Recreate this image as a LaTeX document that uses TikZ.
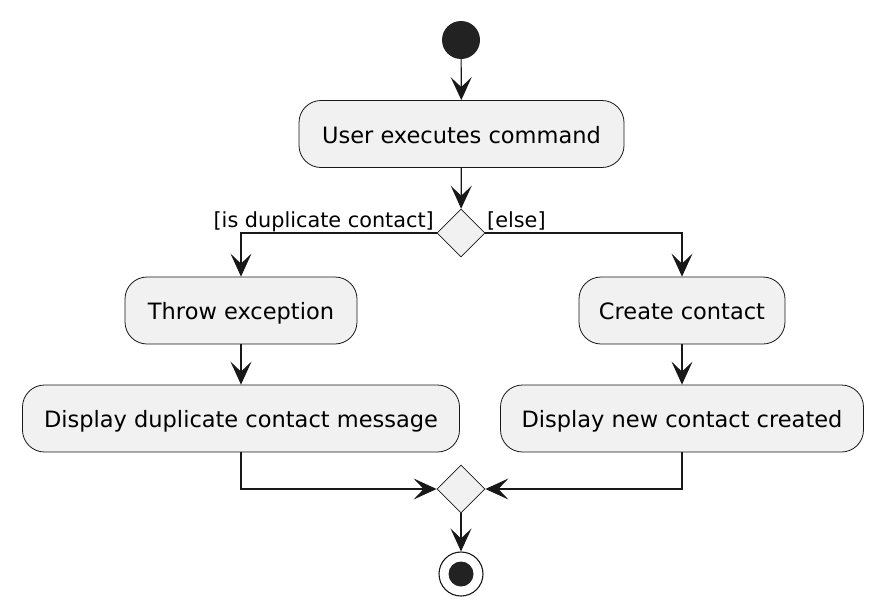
\documentclass[tikz,border=0pt]{standalone}
\usepackage{fontspec}
\setmainfont{DejaVu Sans}
\usetikzlibrary{shapes.geometric,arrows.meta}
\definecolor{boxfill}{HTML}{F1F1F1}
\definecolor{ink}{HTML}{181818}
\definecolor{dot}{HTML}{222222}
\begin{document}
\begin{tikzpicture}[x=1pt,y=-1pt,
  actbox/.style={draw=ink,line width=0.8pt,fill=boxfill,rounded corners=22pt,minimum height=67pt,inner sep=0pt,text height=20pt,text depth=2pt,font=\fontsize{22.5}{26}\selectfont,text=black},
  decision/.style={shape=diamond,draw=ink,line width=0.8pt,fill=boxfill,minimum width=48pt,minimum height=48pt,inner sep=0pt,aspect=1},
  flow/.style={draw=ink,line width=1.2pt,-{Stealth[length=23pt,width=21pt,inset=10pt]}},
  guard/.style={font=\fontsize{20.8}{24}\selectfont,text=black,inner sep=0pt}]
\useasboundingbox (0,0) rectangle (884,616);
\fill[white] (0,0) rectangle (884,616);
\node[circle,fill=dot,minimum size=38pt,inner sep=0pt] (start) at (461,40) {};
\node[actbox,minimum width=325pt] (a1) at (461.5,134) {User executes command};
\node[decision] (d1) at (461,233) {};
\node[actbox,minimum width=232pt] (a2) at (241,310.5) {Throw exception};
\node[actbox,minimum width=437pt] (a3) at (241,418.5) {Display duplicate contact message};
\node[actbox,minimum width=206pt] (a4) at (682,310.5) {Create contact};
\node[actbox,minimum width=363pt] (a5) at (682,418.5) {Display new contact created};
\node[decision] (d2) at (461,489) {};
\node[circle,draw=ink,line width=1.1pt,fill=white,minimum size=44pt,inner sep=0pt] (end) at (461,574) {};
\node[circle,fill=dot,minimum size=25pt,inner sep=0pt] (endin) at (461,574) {};
\node[guard,anchor=base east] (g1) at (434,227) {[is duplicate contact]};
\node[guard,anchor=base west] (g2) at (487,227) {[else]};
\draw[flow] (start) -- (a1);
\draw[flow] (a1) -- (d1);
\draw[flow] (d1.west) -| (a2.north);
\draw[flow] (d1.east) -| (a4.north);
\draw[flow] (a2) -- (a3);
\draw[flow] (a4) -- (a5);
\draw[flow] (a3.south) |- (d2.west);
\draw[flow] (a5.south) |- (d2.east);
\draw[flow] (d2) -- (end);
\end{tikzpicture}
\end{document}
